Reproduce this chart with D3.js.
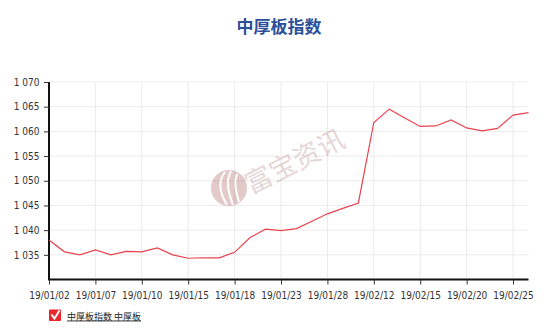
<!DOCTYPE html>
<html><head><meta charset="utf-8">
<script src="https://cdn.jsdelivr.net/npm/d3@7"></script>
<style>body{margin:0;background:#fff}svg{display:block}</style>
</head><body>
<script>
const title = "中厚板指数";
const dates = ["19/01/02","19/01/03","19/01/04","19/01/07","19/01/08","19/01/09","19/01/10","19/01/11","19/01/14","19/01/15","19/01/16","19/01/17","19/01/18","19/01/21","19/01/22","19/01/23","19/01/24","19/01/25","19/01/28","19/01/29","19/01/30","19/02/12","19/02/13","19/02/14","19/02/15","19/02/18","19/02/19","19/02/20","19/02/21","19/02/22","19/02/25","19/02/26"];
const values = [1038.0,1035.6,1035.0,1036.0,1035.0,1035.7,1035.6,1036.4,1035.0,1034.3,1034.4,1034.4,1035.5,1038.5,1040.2,1039.9,1040.3,1041.8,1043.3,1044.4,1045.5,1061.8,1064.5,1062.7,1061.0,1061.1,1062.3,1060.7,1060.1,1060.6,1063.3,1063.8];
const yTicks = [1035,1040,1045,1050,1055,1060,1065,1070];
const xTickLabels = ["19/01/02","19/01/07","19/01/10","19/01/15","19/01/18","19/01/23","19/01/28","19/02/12","19/02/15","19/02/20","19/02/25"];
const legendLabel = "中厚板指数 中厚板";
const watermark = "富宝资讯";

const W = 558, H = 335;
const svg = d3.select("body").append("svg").attr("width", W).attr("height", H);
const L = 49, R = 528.5, T = 82, B = 279.5;

const x = d3.scalePoint().domain(dates).range([L, R]);
const y = d3.scaleLinear().domain([1030, 1070]).range([B, T]);
const fmt = v => d3.format(",")(v).replace(/,/g, " ");

// title
svg.append("text").attr("x", 279).attr("y", 33).attr("text-anchor", "middle")
  .attr("font-family", "Noto Sans CJK SC").attr("font-weight", "bold")
  .attr("font-size", 17).attr("fill", "#2b4f98").text(title);

// grid
const g = svg.append("g");
g.selectAll(".hg").data(yTicks).join("line")
  .attr("x1", L).attr("x2", R).attr("y1", d => y(d)).attr("y2", d => y(d))
  .attr("stroke", "#ebebeb").attr("stroke-width", 1);
g.selectAll(".vg").data(xTickLabels.slice(1)).join("line")
  .attr("x1", d => x(d)).attr("x2", d => x(d)).attr("y1", T).attr("y2", B)
  .attr("stroke", "#ebebeb").attr("stroke-width", 1);

// watermark
const wm = svg.append("g").attr("opacity", 0.3);
wm.append("circle").attr("cx", 229).attr("cy", 188).attr("r", 18).attr("fill", "#a4514a");
wm.append("path").attr("d", "M225,172 C217,182 221,195 227,205 M231,171 C225,182 229,194 233,205 M237,174 C233,184 237,194 239,202")
  .attr("stroke", "#fff").attr("stroke-width", 2).attr("fill", "none");
svg.append("text").attr("transform", "translate(299,170) rotate(-27)")
  .attr("text-anchor", "middle").attr("font-family", "Noto Sans CJK SC")
  .attr("font-size", 27).attr("fill", "#c9a7a7").attr("opacity", 0.45).text(watermark);

const tf = "DejaVu Sans Condensed, DejaVu Sans";
// axes
const yAxis = d3.axisLeft(y).tickValues(yTicks).tickSize(5).tickFormat(fmt);
const ya = svg.append("g").attr("transform", `translate(${L},0)`).call(yAxis);
ya.select(".domain").attr("d", `M0,${T}V${B}`).attr("stroke", "#111").attr("stroke-width", 2);
ya.selectAll(".tick line").attr("stroke", "#333");
ya.selectAll(".tick text").attr("font-family", tf).attr("font-stretch", "condensed").attr("font-size", 10).attr("fill", "#333").attr("x", -9.5);

const xAxis = d3.axisBottom(x).tickValues(xTickLabels).tickSize(5);
const xa = svg.append("g").attr("transform", `translate(0,${B})`).call(xAxis);
xa.select(".domain").attr("d", `M${L - 1},0H${R}`).attr("stroke", "#111").attr("stroke-width", 2);
xa.selectAll(".tick line").attr("stroke", "#333");
xa.selectAll(".tick text").attr("font-family", tf).attr("font-stretch", "condensed").attr("font-size", 10).attr("fill", "#333").attr("y", 12.5);

// line
svg.append("path").datum(values)
  .attr("d", d3.line().x((d, i) => x(dates[i])).y(d => y(d)))
  .attr("fill", "none").attr("stroke", "#e8434f").attr("stroke-width", 1.2);

// legend
const lg = svg.append("g");
lg.append("rect").attr("x", 49).attr("y", 309.5).attr("width", 12).attr("height", 11.5).attr("rx", 1).attr("fill", "#e8262c");
lg.append("path").attr("d", "M51.5,314.5 L54.5,318.5 L59.5,310.5").attr("stroke", "#fff").attr("stroke-width", 2).attr("fill", "none");
lg.append("text").attr("x", 67).attr("y", 319.5).attr("font-family", "Noto Sans CJK SC")
  .attr("font-size", 9).attr("fill", "#222").attr("text-decoration", "underline").text(legendLabel);
</script>
</body></html>
